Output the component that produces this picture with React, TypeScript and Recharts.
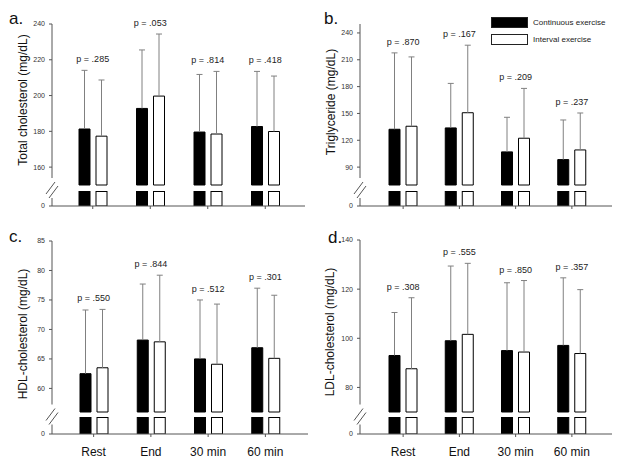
import React from 'react';
import { ComposedChart, Bar, Line, XAxis, YAxis, LabelList, Legend } from 'recharts';

const times = ['Rest', 'End', '30 min', '60 min'];

// a. total cholesterol
const tcCont = [181.3, 192.8, 179.6, 182.7];
const tcContSd = [32.8, 32.7, 32.2, 30.8];
const tcInt = [177.3, 199.7, 178.5, 179.9];
const tcIntSd = [31.4, 34.7, 35.0, 31.0];
const tcP = ['.285', '.053', '.814', '.418'];

// b. triglyceride
const tgCont = [132.3, 133.8, 107.0, 98.4];
const tgContSd = [85.4, 49.8, 38.7, 44.3];
const tgInt = [135.7, 150.8, 122.3, 109.2];
const tgIntSd = [77.5, 75.5, 55.7, 41.3];
const tgP = ['.870', '.167', '.209', '.237'];

// c. HDL
const hdlCont = [62.5, 68.2, 65.0, 66.9];
const hdlContSd = [10.8, 9.5, 10.0, 10.1];
const hdlInt = [63.5, 67.9, 64.1, 65.1];
const hdlIntSd = [9.9, 11.3, 10.2, 10.7];
const hdlP = ['.550', '.844', '.512', '.301'];

// d. LDL
const ldlCont = [93.0, 99.0, 95.0, 97.1];
const ldlContSd = [17.5, 30.4, 27.6, 27.5];
const ldlInt = [87.6, 101.6, 94.4, 93.8];
const ldlIntSd = [28.9, 28.9, 29.1, 26.0];
const ldlP = ['.308', '.555', '.850', '.357'];

const tcTicks = [160, 180, 200, 220, 240];
const tgTicks = [90, 120, 150, 180, 210, 240];
const hdlTicks = [60, 65, 70, 75, 80, 85];
const ldlTicks = [80, 100, 120, 140];

const FONT = '"Liberation Sans", Arial, sans-serif';
const AXIS = '#555';
const AXIS_W = 45;
const TOP_M = 24;
const LOW_M = 1;
const XH = 30;

type Cfg = {
  letter: string; title: string;
  left: number; right: number; top: number; upperBottom: number; lowerTop: number; base: number;
  padL: number; padR: number; domain: [number, number]; ticks: number[];
  cont: number[]; contSd: number[]; int: number[]; intSd: number[]; p: string[];
  letterX: number; letterY: number; titleX: number; titleY: number;
  xLabels: boolean; legend: boolean;
};

const panels: Cfg[] = [
  {
    letter: 'a.', title: 'Total cholesterol (mg/dL)',
    left: 52, right: 305, top: 24, upperBottom: 185, lowerTop: 191, base: 206,
    padL: 12, padR: 11, domain: [150, 240], ticks: tcTicks,
    cont: tcCont, contSd: tcContSd, int: tcInt, intSd: tcIntSd, p: tcP,
    letterX: 9, letterY: 24, titleX: 23, titleY: 100, xLabels: false, legend: false,
  },
  {
    letter: 'b.', title: 'Triglyceride (mg/dL)',
    left: 360, right: 612, top: 24, upperBottom: 185, lowerTop: 191, base: 206,
    padL: 15, padR: 12, domain: [70, 250], ticks: tgTicks,
    cont: tgCont, contSd: tgContSd, int: tgInt, intSd: tgIntSd, p: tgP,
    letterX: 324, letterY: 24, titleX: 331, titleY: 102, xLabels: false, legend: true,
  },
  {
    letter: 'c.', title: 'HDL-cholesterol (mg/dL)',
    left: 52, right: 308, top: 241, upperBottom: 412, lowerTop: 417, base: 434,
    padL: 13, padR: 14, domain: [56, 85], ticks: hdlTicks,
    cont: hdlCont, contSd: hdlContSd, int: hdlInt, intSd: hdlIntSd, p: hdlP,
    letterX: 9, letterY: 242, titleX: 23, titleY: 334, xLabels: true, legend: false,
  },
  {
    letter: 'd.', title: 'LDL-cholesterol (mg/dL)',
    left: 360, right: 612, top: 240, upperBottom: 412, lowerTop: 417, base: 434,
    padL: 15, padR: 12, domain: [70, 140], ticks: ldlTicks,
    cont: ldlCont, contSd: ldlContSd, int: ldlInt, intSd: ldlIntSd, p: ldlP,
    letterX: 328, letterY: 243, titleX: 330, titleY: 332, xLabels: true, legend: false,
  },
];

const Whisker = (props: any) => {
  const { x, y, width, height } = props;
  const cx = x + width / 2;
  return (
    <g>
      <line x1={cx} y1={y} x2={cx} y2={y + height} stroke="#808080" />
      <line x1={cx - 3} y1={y} x2={cx + 3} y2={y} stroke="#808080" />
    </g>
  );
};

const Stub = (props: any) => {
  const { x, y, width, height, fill, stroke } = props;
  const top = Math.max(y, LOW_M + 0.5);
  return <rect x={x} y={top} width={width} height={y + height - top} fill={fill} stroke={stroke} />;
};

const LegendBox = ({ payload }: any) => (
  <div style={{ fontFamily: FONT, fontSize: 8, color: '#222' }}>
    {(payload || []).filter((e: any) => e.type !== 'none').map((e: any) => (
      <div key={e.value} style={{ display: 'flex', alignItems: 'center', height: 10, marginBottom: 6.6 }}>
        <span style={{ width: 35, height: 9, background: e.color, border: '1px solid #222', marginRight: 5 }} />
        <span>{e.value}</span>
      </div>
    ))}
  </div>
);

const Panel = ({ cfg }: { cfg: Cfg }) => {
  const rows = times.map((t, k) => ({
    t,
    c: cfg.cont[k],
    cSd: cfg.contSd[k],
    i: cfg.int[k],
    iSd: cfg.intSd[k],
    p: cfg.p[k],
    top: Math.max(cfg.cont[k] + cfg.contSd[k], cfg.int[k] + cfg.intSd[k]),
  }));
  const w = AXIS_W + cfg.right - cfg.left;
  const tickStyle = { fontSize: 7, fill: '#333', fontFamily: FONT };
  return (
    <>
      <div style={{ position: 'absolute', left: cfg.left - AXIS_W, top: cfg.top - TOP_M }}>
        <ComposedChart width={w} height={TOP_M + cfg.upperBottom - cfg.top + 2} data={rows}
          margin={{ top: TOP_M, right: 0, bottom: 2, left: 0 }} barSize={11} barGap={6}>
          <XAxis dataKey="t" hide padding={{ left: cfg.padL, right: cfg.padR }} />
          <XAxis dataKey="t" xAxisId="w" hide padding={{ left: cfg.padL, right: cfg.padR }} />
          <YAxis domain={cfg.domain} ticks={cfg.ticks} interval={0} width={AXIS_W} tickSize={3} tickMargin={4}
            tick={tickStyle} stroke={AXIS} />
          <Bar dataKey="c" name="Continuous exercise" fill="#000" stroke="#000" isAnimationActive={false} />
          <Bar dataKey="i" name="Interval exercise" fill="#fff" stroke="#000" isAnimationActive={false} />
          <Bar xAxisId="w" dataKey={(d: any) => [d.c, d.c + d.cSd]} shape={Whisker} legendType="none" isAnimationActive={false} />
          <Bar xAxisId="w" dataKey={(d: any) => [d.i, d.i + d.iSd]} shape={Whisker} legendType="none" isAnimationActive={false} />
          <Line dataKey="top" stroke="none" dot={false} activeDot={false} legendType="none" isAnimationActive={false}>
            <LabelList dataKey="p" position="top" offset={8} formatter={(v: any) => `p = ${v}`}
              fontSize={9} fill="#222" fontFamily={FONT} />
          </Line>
          {cfg.legend && (
            <Legend layout="vertical" align="center" verticalAlign="middle" content={LegendBox}
              wrapperStyle={{ left: 491 - (cfg.left - AXIS_W), top: 17.5, width: 140, height: 34 }} />
          )}
        </ComposedChart>
      </div>
      <div style={{ position: 'absolute', left: cfg.left - AXIS_W, top: cfg.lowerTop - LOW_M }}>
        <ComposedChart width={w} height={LOW_M + cfg.base - cfg.lowerTop + XH} data={rows}
          margin={{ top: LOW_M, right: 0, bottom: 0, left: 0 }} barSize={11} barGap={6}>
          <XAxis dataKey="t" padding={{ left: cfg.padL, right: cfg.padR }} height={XH} interval={0}
            tickSize={3} tickMargin={10} stroke={AXIS}
            tick={{ fontSize: 12, fill: '#111', fontFamily: FONT }}
            tickFormatter={cfg.xLabels ? undefined : () => ''} />
          <YAxis domain={[0, cfg.domain[0]]} ticks={[0]} allowDataOverflow width={AXIS_W} tickSize={3} tickMargin={4}
            tick={tickStyle} stroke={AXIS} />
          <Bar dataKey="c" fill="#000" stroke="#000" shape={Stub} isAnimationActive={false} />
          <Bar dataKey="i" fill="#fff" stroke="#000" shape={Stub} isAnimationActive={false} />
        </ComposedChart>
      </div>
    </>
  );
};

export default function App() {
  return (
    <div style={{ position: 'absolute', left: 0, top: 0, width: 634, height: 465, background: '#fff', overflow: 'hidden' }}>
      {panels.map((cfg) => <Panel key={cfg.letter} cfg={cfg} />)}
      <svg width={634} height={465} style={{ position: 'absolute', left: 0, top: 0, pointerEvents: 'none' }}>
        {panels.map((cfg) => {
          const gc = (cfg.upperBottom + cfg.lowerTop) / 2;
          return (
            <g key={cfg.letter}>
              <text x={cfg.letterX} y={cfg.letterY} fontSize={17} fontFamily={FONT} fill="#111">{cfg.letter}</text>
              <text x={cfg.titleX} y={cfg.titleY} fontSize={12} fontFamily={FONT} fill="#111"
                textAnchor="middle" dominantBaseline="central"
                transform={`rotate(-90 ${cfg.titleX} ${cfg.titleY})`}>{cfg.title}</text>
              <rect x={cfg.left - 8} y={gc - 10} width={16} height={20} fill="#fff" />
              <line x1={cfg.left - 6} y1={gc + 6} x2={cfg.left + 3} y2={gc - 6} stroke={AXIS} />
              <line x1={cfg.left - 3} y1={gc + 10} x2={cfg.left + 6} y2={gc - 2} stroke={AXIS} />
            </g>
          );
        })}
      </svg>
    </div>
  );
}
